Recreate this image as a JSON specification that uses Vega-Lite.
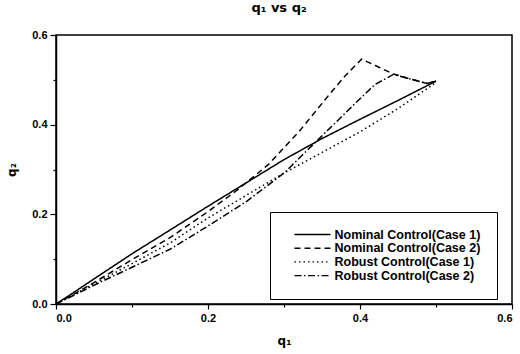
{
  "$schema": "https://vega.github.io/schema/vega-lite/v6.json",
  "autosize": {"type": "none"},
  "padding": {"left": 56, "top": 35, "right": 8, "bottom": 50},
  "width": 456,
  "height": 269,
  "background": "white",
  "title": {"text": "q₁ vs q₂", "font": "DejaVu Sans", "fontSize": 13, "fontWeight": "bold", "color": "black", "offset": 14, "dx": -5},
  "config": {
    "view": {"stroke": "black", "strokeWidth": 1.5},
    "axis": {
      "domainColor": "black", "domainWidth": 1.5, "tickColor": "black", "tickWidth": 1.2,
      "labelFont": "Liberation Sans", "labelFontSize": 11, "labelFontWeight": "bold", "labelColor": "black",
      "titleFont": "DejaVu Sans", "titleFontSize": 12, "titleFontWeight": "bold", "titleColor": "black",
      "grid": false, "labelPadding": 3, "tickSize": 6
    }
  },
  "data": {"values": [
    {"series": "Nominal Control(Case 1)", "o": 0, "q1": 0, "q2": 0},
    {"series": "Nominal Control(Case 1)", "o": 1, "q1": 0.02, "q2": 0.022},
    {"series": "Nominal Control(Case 1)", "o": 2, "q1": 0.05, "q2": 0.056},
    {"series": "Nominal Control(Case 1)", "o": 3, "q1": 0.1, "q2": 0.112},
    {"series": "Nominal Control(Case 1)", "o": 4, "q1": 0.15, "q2": 0.165},
    {"series": "Nominal Control(Case 1)", "o": 5, "q1": 0.2, "q2": 0.218},
    {"series": "Nominal Control(Case 1)", "o": 6, "q1": 0.25, "q2": 0.27},
    {"series": "Nominal Control(Case 1)", "o": 7, "q1": 0.3, "q2": 0.322},
    {"series": "Nominal Control(Case 1)", "o": 8, "q1": 0.35, "q2": 0.369},
    {"series": "Nominal Control(Case 1)", "o": 9, "q1": 0.4, "q2": 0.412},
    {"series": "Nominal Control(Case 1)", "o": 10, "q1": 0.45, "q2": 0.454},
    {"series": "Nominal Control(Case 1)", "o": 11, "q1": 0.5, "q2": 0.497},
    {"series": "Nominal Control(Case 2)", "o": 0, "q1": 0, "q2": 0},
    {"series": "Nominal Control(Case 2)", "o": 1, "q1": 0.03, "q2": 0.028},
    {"series": "Nominal Control(Case 2)", "o": 2, "q1": 0.06, "q2": 0.058},
    {"series": "Nominal Control(Case 2)", "o": 3, "q1": 0.1, "q2": 0.099},
    {"series": "Nominal Control(Case 2)", "o": 4, "q1": 0.15, "q2": 0.148},
    {"series": "Nominal Control(Case 2)", "o": 5, "q1": 0.2, "q2": 0.206},
    {"series": "Nominal Control(Case 2)", "o": 6, "q1": 0.24, "q2": 0.256},
    {"series": "Nominal Control(Case 2)", "o": 7, "q1": 0.28, "q2": 0.312},
    {"series": "Nominal Control(Case 2)", "o": 8, "q1": 0.32, "q2": 0.385},
    {"series": "Nominal Control(Case 2)", "o": 9, "q1": 0.36, "q2": 0.468},
    {"series": "Nominal Control(Case 2)", "o": 10, "q1": 0.38, "q2": 0.508},
    {"series": "Nominal Control(Case 2)", "o": 11, "q1": 0.402, "q2": 0.546},
    {"series": "Nominal Control(Case 2)", "o": 12, "q1": 0.42, "q2": 0.532},
    {"series": "Nominal Control(Case 2)", "o": 13, "q1": 0.444, "q2": 0.513},
    {"series": "Nominal Control(Case 2)", "o": 14, "q1": 0.47, "q2": 0.5},
    {"series": "Nominal Control(Case 2)", "o": 15, "q1": 0.488, "q2": 0.492},
    {"series": "Nominal Control(Case 2)", "o": 16, "q1": 0.5, "q2": 0.497},
    {"series": "Robust Control(Case 1)", "o": 0, "q1": 0, "q2": 0},
    {"series": "Robust Control(Case 1)", "o": 1, "q1": 0.03, "q2": 0.027},
    {"series": "Robust Control(Case 1)", "o": 2, "q1": 0.06, "q2": 0.054},
    {"series": "Robust Control(Case 1)", "o": 3, "q1": 0.1, "q2": 0.09},
    {"series": "Robust Control(Case 1)", "o": 4, "q1": 0.15, "q2": 0.136},
    {"series": "Robust Control(Case 1)", "o": 5, "q1": 0.2, "q2": 0.192},
    {"series": "Robust Control(Case 1)", "o": 6, "q1": 0.25, "q2": 0.242},
    {"series": "Robust Control(Case 1)", "o": 7, "q1": 0.3, "q2": 0.292},
    {"series": "Robust Control(Case 1)", "o": 8, "q1": 0.35, "q2": 0.338},
    {"series": "Robust Control(Case 1)", "o": 9, "q1": 0.4, "q2": 0.384},
    {"series": "Robust Control(Case 1)", "o": 10, "q1": 0.45, "q2": 0.436},
    {"series": "Robust Control(Case 1)", "o": 11, "q1": 0.5, "q2": 0.494},
    {"series": "Robust Control(Case 2)", "o": 0, "q1": 0, "q2": 0},
    {"series": "Robust Control(Case 2)", "o": 1, "q1": 0.03, "q2": 0.025},
    {"series": "Robust Control(Case 2)", "o": 2, "q1": 0.06, "q2": 0.05},
    {"series": "Robust Control(Case 2)", "o": 3, "q1": 0.1, "q2": 0.082},
    {"series": "Robust Control(Case 2)", "o": 4, "q1": 0.15, "q2": 0.122},
    {"series": "Robust Control(Case 2)", "o": 5, "q1": 0.2, "q2": 0.174},
    {"series": "Robust Control(Case 2)", "o": 6, "q1": 0.25, "q2": 0.228},
    {"series": "Robust Control(Case 2)", "o": 7, "q1": 0.3, "q2": 0.292},
    {"series": "Robust Control(Case 2)", "o": 8, "q1": 0.35, "q2": 0.375},
    {"series": "Robust Control(Case 2)", "o": 9, "q1": 0.4, "q2": 0.458},
    {"series": "Robust Control(Case 2)", "o": 10, "q1": 0.42, "q2": 0.49},
    {"series": "Robust Control(Case 2)", "o": 11, "q1": 0.444, "q2": 0.512},
    {"series": "Robust Control(Case 2)", "o": 12, "q1": 0.47, "q2": 0.5},
    {"series": "Robust Control(Case 2)", "o": 13, "q1": 0.488, "q2": 0.492},
    {"series": "Robust Control(Case 2)", "o": 14, "q1": 0.5, "q2": 0.497}
  ]},
  "mark": {"type": "line", "color": "black", "strokeWidth": 1.5, "clip": true},
  "encoding": {
    "x": {"field": "q1", "type": "quantitative", "scale": {"domain": [0, 0.6], "nice": false, "zero": false},
      "axis": {"title": "q₁", "values": [0, 0.1, 0.2, 0.3, 0.4, 0.5, 0.6],
        "labelExpr": "round(datum.value*10)%2==0 ? format(datum.value,'.1f') : ''",
        "tickSize": {"condition": {"test": "round(datum.value*10)%2==1", "value": 3}, "value": 5},
        "titlePadding": 12}},
    "y": {"field": "q2", "type": "quantitative", "scale": {"domain": [0, 0.6], "nice": false, "zero": false},
      "axis": {"title": "q₂", "values": [0, 0.1, 0.2, 0.3, 0.4, 0.5, 0.6],
        "labelExpr": "round(datum.value*10)%2==0 ? format(datum.value,'.1f') : ''",
        "tickSize": {"condition": {"test": "round(datum.value*10)%2==1", "value": 3}, "value": 6},
        "titlePadding": 13}},
    "order": {"field": "o", "type": "quantitative"},
    "strokeDash": {"field": "series", "type": "nominal",
      "scale": {"domain": ["Nominal Control(Case 1)", "Nominal Control(Case 2)", "Robust Control(Case 1)", "Robust Control(Case 2)"],
        "range": [[1, 0], [6, 4], [1.5, 3], [7, 2.5, 1.5, 2.5]]},
      "legend": {"title": null, "orient": "none", "legendX": 214, "legendY": 177,
        "symbolType": "stroke", "symbolSize": 1296, "symbolStrokeWidth": 1.4, "symbolStrokeColor": "black",
        "clipHeight": 12, "rowPadding": 0.7, "padding": 16.5, "symbolOffset": 7, "labelOffset": 3,
        "labelFont": "Liberation Sans", "labelFontSize": 12.5, "labelFontWeight": "bold", "labelColor": "black",
        "labelExpr": "datum.label + '\u00a0\u00a0\u00a0\u00a0\u00a0\u00a0\u00a0'",
        "strokeColor": "black", "fillColor": "white", "labelLimit": 300}}
  }
}
